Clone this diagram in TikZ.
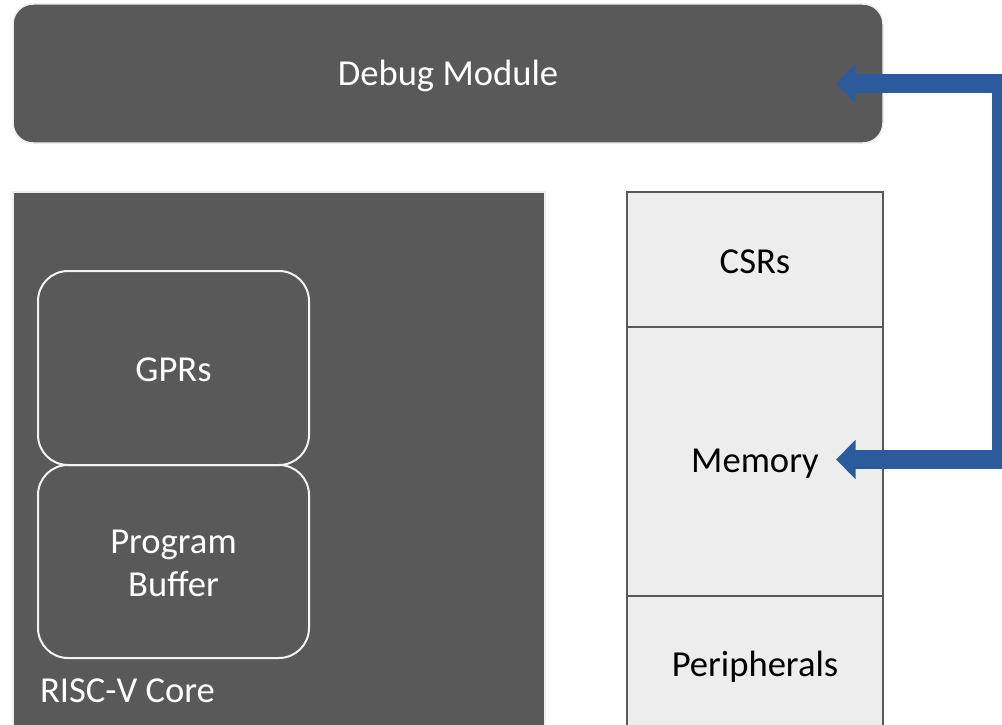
\documentclass[tikz,border=0pt]{standalone}
\usepackage{fontspec}
\setmainfont{Carlito}
\usetikzlibrary{arrows.meta}
\definecolor{darkfill}{HTML}{595959}
\definecolor{lightfill}{HTML}{EDEDED}
\definecolor{edgelight}{HTML}{EEEEEE}
\definecolor{linkblue}{HTML}{2C5B9D}
\begin{document}
\begin{tikzpicture}[x=1pt,y=-1pt,
  every node/.style={inner sep=0pt,outer sep=0pt,font=\fontsize{36.6}{43}\selectfont},
  darkbox/.style={fill=darkfill,draw=edgelight,line width=1.5pt,text=white},
  innerbox/.style={draw=white!95!black,line width=2pt,rounded corners=30pt,text=white,
    minimum width=271pt,align=center},
  cell/.style={fill=lightfill,draw=darkfill,line width=2pt,minimum width=256pt,text=black},
  label/.style={text=white,yshift=-2pt},
  link/.style={draw=linkblue,line width=19pt,
    {Triangle[length=19.5pt,width=38pt]}-{Triangle[length=19.5pt,width=38pt]}}]
\useasboundingbox (0,0) rectangle (1002,725);

% debug module
\node[darkbox,rounded corners=20pt,minimum width=870pt,minimum height=139pt] (dm) at (448,73.5) {};
\node[label] (dmtext) at (dm.center) {Debug Module};

% core with its register file and program buffer
\node[darkbox,minimum width=532pt,minimum height=548pt] (core) at (279,466) {};
\node[anchor=base west,text=white] (corelbl) at (40,702) {RISC-V Core};
\node[innerbox,minimum height=194pt] (gpr) at (173.5,368) {};
\node[label] (gprtext) at (gpr.center) {GPRs};
\node[innerbox,minimum height=193pt] (pbuf) at (173.5,561.5) {};
\node[label,align=center] (pbuftext) at (pbuf.center) {Program\\Buffer};

% address space column
\node[cell,minimum height=135pt] (csr) at (755,259.5) {};
\node[label,text=black] (csrtext) at (csr.center) {CSRs};
\node[cell,minimum height=269pt] (mem) at (755,461.5) {};
\node[label,text=black] (memtext) at (mem.center) {Memory};
\node[cell,minimum height=138pt] (per) at (755,665) {};
\node[label,text=black] (pertext) at (per.center) {Peripherals};

% debug module <-> memory access path
\draw[link] ([shift={(-47pt,-10pt)}]dm.east) -- ++(165.5pt,0pt) |- ([shift={(-47pt,2pt)}]mem.east);
\end{tikzpicture}
\end{document}
